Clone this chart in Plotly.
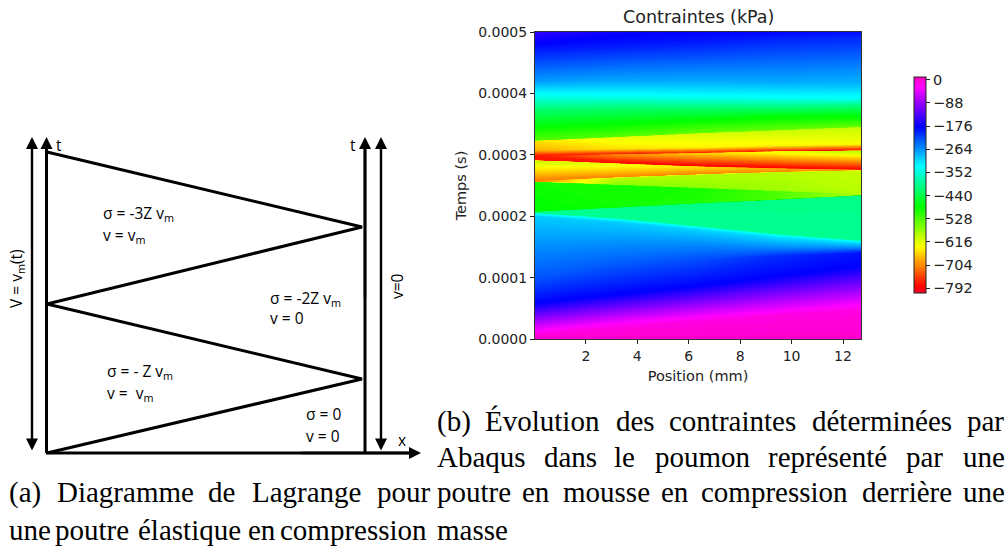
import plotly.graph_objects as go

# ---- right panel: stress field ----
position_mm = [0.02, 3.2, 6.4, 9.5, 12.7]
# each row: the time (1e-4 s) of one iso-line at each position, and its stress (kPa)
time_rows = [
    [0.00, 0.00, 0.00, 0.00, 0.00],
    [0.07, 0.18, 0.28, 0.38, 0.47],
    [0.14, 0.26, 0.36, 0.46, 0.56],
    [0.58, 0.72, 0.86, 1.02, 1.18],
    [1.00, 1.20, 1.30, 1.35, 1.40],
    [1.50, 1.55, 1.55, 1.50, 1.50],
    [2.00, 1.90, 1.78, 1.65, 1.56],
    [2.04, 1.95, 1.82, 1.69, 1.59],
    [2.05, 1.96, 1.83, 1.70, 1.60],
    [2.06, 2.13, 2.20, 2.26, 2.33],
    [2.07, 2.14, 2.21, 2.27, 2.34],
    [2.55, 2.50, 2.45, 2.40, 2.36],
    [2.56, 2.51, 2.46, 2.41, 2.37],
    [2.57, 2.62, 2.67, 2.71, 2.74],
    [2.58, 2.63, 2.68, 2.72, 2.745],
    [2.90, 2.85, 2.80, 2.77, 2.75],
    [2.91, 2.86, 2.81, 2.78, 2.755],
    [2.98, 3.00, 3.02, 3.05, 3.06],
    [2.99, 3.01, 3.03, 3.055, 3.07],
    [3.07, 3.10, 3.12, 3.15, 3.18],
    [3.23, 3.29, 3.35, 3.40, 3.45],
    [3.24, 3.30, 3.36, 3.41, 3.46],
    [3.50, 3.55, 3.60, 3.65, 3.65],
    [3.72, 3.75, 3.75, 3.75, 3.78],
    [3.98, 3.96, 3.94, 3.93, 3.92],
    [4.20, 4.22, 4.20, 4.18, 4.17],
    [4.80, 4.80, 4.82, 4.88, 4.92],
    [5.00, 5.00, 5.00, 5.00, 5.00],
]
stress_rows = [
    [0, 0, 0, 0, 0],
    [-8, -8, -8, -8, -8],
    [-30, -30, -30, -30, -30],
    [-178, -178, -178, -178, -178],
    [-230, -230, -225, -205, -190],
    [-262, -262, -262, -265, -270],
    [-300, -300, -305, -310, -310],
    [-335, -335, -335, -335, -335],
    [-395, -395, -395, -395, -395],
    [-395, -395, -400, -400, -400],
    [-480, -490, -500, -530, -590],
    [-490, -490, -495, -525, -590],
    [-710, -565, -565, -575, -590],
    [-710, -590, -585, -590, -600],
    [-710, -710, -710, -710, -700],
    [-600, -620, -650, -680, -700],
    [-770, -790, -790, -790, -790],
    [-770, -700, -660, -620, -585],
    [-770, -780, -770, -780, -790],
    [-680, -650, -640, -640, -630],
    [-650, -620, -610, -600, -600],
    [-530, -530, -540, -540, -540],
    [-470, -470, -470, -470, -470],
    [-420, -420, -420, -420, -420],
    [-335, -335, -335, -335, -335],
    [-270, -275, -280, -280, -285],
    [-180, -190, -195, -200, -200],
    [-150, -172, -178, -180, -185],
]
x_ticks = [2, 4, 6, 8, 10, 12]
y_ticks = [0, 0.0001, 0.0002, 0.0003, 0.0004, 0.0005]
y_tick_labels = ["0.0000", "0.0001", "0.0002", "0.0003", "0.0004", "0.0005"]
cbar_ticks = [0, -88, -176, -264, -352, -440, -528, -616, -704, -792]

colorscale = [[0, "rgb(255,0,41)"], [0.03, "rgb(255,0,0)"], [0.215, "rgb(255,255,0)"], [0.4, "rgb(0,255,0)"],
              [0.586, "rgb(0,255,255)"], [0.77, "rgb(0,0,255)"], [0.954, "rgb(255,0,255)"], [1, "rgb(255,0,191)"]]

zigzag_x = [47, 362, 47, 362, 47]
zigzag_y = [453, 379, 304, 227, 152]
left_axis_x, right_axis_x = [46.5, 46.5], [365, 365]
axis_y = [453, 140]
bottom_x, bottom_y = [46, 415], [453, 453]
diagram_labels = [
    ("t", 56, 145), ("t", 350, 145), ("x", 398, 440),
    ("σ = -3Z v<sub>m</sub>", 103, 213), ("v = v<sub>m</sub>", 103, 235),
    ("σ = -2Z v<sub>m</sub>", 270, 298), ("v = 0", 270, 318),
    ("σ = - Z v<sub>m</sub>", 107, 371), ("v =  v<sub>m</sub>", 107, 393),
    ("σ = 0", 306, 414), ("v = 0", 306, 436),
]
rotated_labels = [("V = v<sub>m</sub>(t)", 16, 279), ("v=0", 397, 286)]

caption_words = [
    ("(b)", 437, 421), ("Évolution", 485, 421), ("des", 616, 421), ("contraintes", 669, 421),
    ("déterminées", 812, 421), ("par", 967, 421),
    ("Abaqus", 437, 457), ("dans", 544, 457), ("le", 614, 457), ("poumon", 655, 457),
    ("représenté", 768, 457), ("par", 906, 457), ("une", 963, 457),
    ("(a)", 9, 492), ("Diagramme", 57, 492), ("de", 208, 492), ("Lagrange", 252, 492), ("pour", 377, 492),
    ("poutre", 437, 492), ("en", 522, 492), ("mousse", 563, 492), ("en", 661, 492),
    ("compression", 701, 492), ("derrière", 862, 492), ("une", 963, 492),
    ("une", 9, 530), ("poutre", 55, 530), ("élastique", 138, 530), ("en", 248, 530),
    ("compression", 280, 530), ("masse", 437, 530),
]

W, H = 1008, 547
fig = go.Figure()

hidden_axis = dict(showgrid=False, showticklabels="none", startline=False, endline=False,
                   minorgridcount=0, smoothing=0, type="linear")
a_index = list(range(len(position_mm)))
b_index = list(range(len(time_rows)))
fig.add_trace(go.Carpet(
    carpet="field", x=[position_mm for _ in time_rows], y=[[t * 1e-4 for t in r] for r in time_rows],
    a=a_index, b=b_index, aaxis=hidden_axis, baxis=hidden_axis))
fig.add_trace(go.Contourcarpet(
    carpet="field", z=stress_rows, a=a_index, b=b_index,
    autocontour=False, contours=dict(start=-810, end=10, size=4, coloring="fill", showlines=False),
    line=dict(width=0, smoothing=0), colorscale=colorscale, zmin=-810, zmax=10,
    colorbar=dict(tickvals=cbar_ticks, ticks="outside", ticklen=4, tickcolor="#222", tickwidth=1,
                  tickfont=dict(family="DejaVu Sans", size=14.5, color="#222"),
                  lenmode="pixels", len=216, thicknessmode="pixels", thickness=12,
                  xref="paper", yref="paper", x=914 / W, xanchor="left", y=1 - 293 / H, yanchor="bottom",
                  outlinecolor="#222", outlinewidth=1, xpad=0, ypad=0)))

line_style = dict(color="black", width=3)
for xs, ys in [(zigzag_x, zigzag_y), (left_axis_x, axis_y), (right_axis_x, axis_y), (bottom_x, bottom_y)]:
    fig.add_trace(go.Scatter(x=xs, y=ys, mode="lines", line=line_style, xaxis="x2", yaxis="y2",
                             showlegend=False, hoverinfo="skip"))

ann = []
def arrow(x0, y0, x1, y1, side="end"):
    ann.append(dict(x=x1, y=y1, ax=x0, ay=y0, xref="x2", yref="y2", axref="x2", ayref="y2", text="",
                    showarrow=True, arrowhead=2, arrowwidth=2.4, arrowsize=1, arrowside=side, arrowcolor="black"))
arrow(32, 452, 32, 137, "end+start")
arrow(381, 452, 381, 137, "end+start")
arrow(46.5, 300, 46.5, 137)
arrow(365, 300, 365, 137)
arrow(300, 453, 421, 453)

for text, x, y in diagram_labels:
    ann.append(dict(x=x, y=y, xref="x2", yref="y2", text=text, showarrow=False, xanchor="left", xshift=-2,
                    font=dict(family="Open Sans", size=15.5, color="black")))
for text, x, y in rotated_labels:
    ann.append(dict(x=x, y=y, xref="x2", yref="y2", text=text, showarrow=False, textangle=-90,
                    font=dict(family="Open Sans", size=15.5, color="black")))
for text, x, y in caption_words:
    ann.append(dict(x=x, y=y, xref="x2", yref="y2", text=text, showarrow=False, xanchor="left",
                    xshift=-2, font=dict(family="Liberation Serif", size=29, color="black")))
ann.append(dict(x=698 / W, y=1 - 17 / H, xref="paper", yref="paper", text="Contraintes (kPa)", showarrow=False,
                xanchor="center", yanchor="middle", font=dict(family="DejaVu Sans", size=17.5, color="#222")))

ax_font = dict(family="DejaVu Sans", size=14, color="#222")
title_font = dict(family="DejaVu Sans", size=14.5, color="#222")
fig.update_layout(
    width=W, height=H, margin=dict(l=0, r=0, t=0, b=0, autoexpand=False), paper_bgcolor="white",
    plot_bgcolor="rgba(0,0,0,0)", showlegend=False, annotations=ann,
    xaxis=dict(domain=[535 / W, 861 / W], range=[0.02, 12.7], tickvals=x_ticks, ticks="outside", ticklen=4,
               tickcolor="#222", showline=True, mirror=True, linecolor="#333", linewidth=1, showgrid=False,
               zeroline=False, tickfont=ax_font, title=dict(text="Position (mm)", font=title_font, standoff=8),
               anchor="y"),
    yaxis=dict(domain=[1 - 339 / H, 1 - 32 / H], range=[0, 0.0005], tickvals=y_ticks, ticktext=y_tick_labels,
               ticks="outside", ticklen=4, tickcolor="#222", showline=True, mirror=True, linecolor="#333",
               linewidth=1, showgrid=False, zeroline=False, tickfont=ax_font,
               title=dict(text="Temps (s)", font=title_font, standoff=8), anchor="x"),
    xaxis2=dict(domain=[0, 1], range=[0, W], visible=False, anchor="y2"),
    yaxis2=dict(domain=[0, 1], range=[H, 0], visible=False, anchor="x2"),
)
fig.write_html("out.html", config=dict(displayModeBar=False),
               post_script="document.body.style.margin='0';document.body.style.overflow='hidden';")
